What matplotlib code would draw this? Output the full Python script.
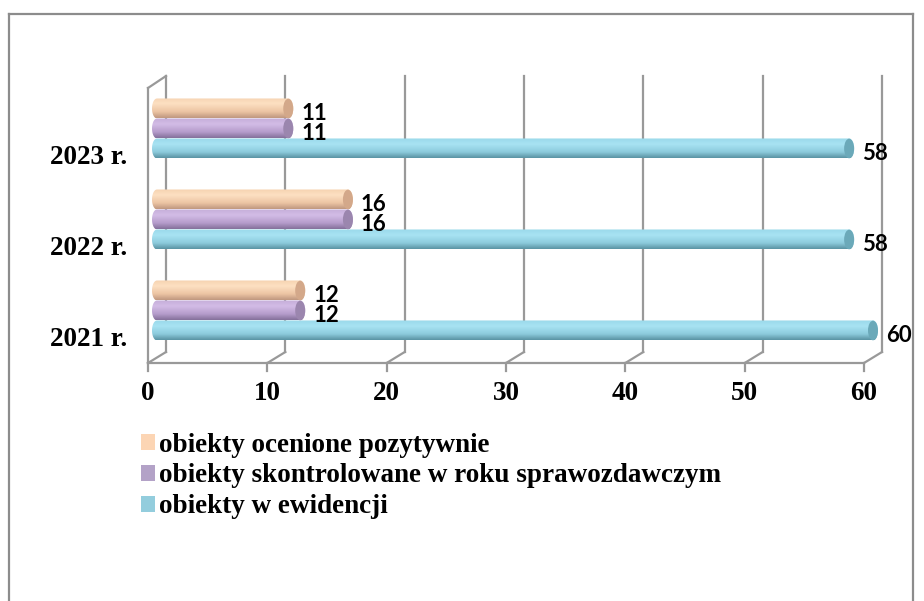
import numpy as np
import matplotlib.pyplot as plt
from matplotlib.path import Path
from matplotlib.patches import PathPatch, Ellipse, Patch
from matplotlib.colors import LinearSegmentedColormap
from matplotlib.lines import Line2D

years = ["2021 r.", "2022 r.", "2023 r."]
series_names = ["obiekty ocenione pozytywnie",
                "obiekty skontrolowane w roku sprawozdawczym",
                "obiekty w ewidencji"]
ocenione = [12, 16, 11]
skontrolowane = [12, 16, 11]
ewidencja = [60, 58, 58]

W, H = 924, 601
fig = plt.figure(figsize=(W / 100, H / 100), dpi=100)

# outer frame
grey = "#8c8c8c"
fig.add_artist(Line2D([9 / W, 9 / W], [0, 1 - 14 / H], color=grey, lw=1.6))
fig.add_artist(Line2D([9 / W, 913 / W], [1 - 14 / H, 1 - 14 / H], color=grey, lw=1.6))
fig.add_artist(Line2D([913 / W, 913 / W], [0, 1 - 14 / H], color=grey, lw=1.6))

# front plane of the 3d box: x 148..864 px, y 88..363 px
ax = fig.add_axes([148 / W, 1 - 363 / H, (864 - 148) / W, 275 / H])
ymin, ymax = -0.286, 2.736
ax.set_xlim(0, 60)
ax.set_ylim(ymin, ymax)
for s in ax.spines.values():
    s.set_visible(False)

px = 60 / 716.0            # data x per pixel
py = (ymax - ymin) / 275.0  # data y per pixel
dx, dy = 18, 11            # depth of the 3d box in pixels

wall = dict(color="#999999", lw=1.6, clip_on=False, zorder=1)
for v in range(0, 61, 10):
    ax.plot([v + dx * px, v + dx * px], [ymin + dy * py, ymax + 12 * py], **wall)
    ax.plot([v, v + dx * px], [ymin, ymin + dy * py], **wall)
    ax.plot([v, v], [ymin, ymin - 8 * py], **wall)
ax.plot([0, 60], [ymin, ymin], **wall)
ax.plot([0, 0], [ymin, ymax], **wall)
ax.plot([0, dx * px], [ymax, ymax + 12 * py], **wall)


def cylinder(x0, x1, yc, h, cols, cap):
    rx = 5 * px
    t1 = np.linspace(np.pi / 2, -np.pi / 2, 30)
    t2 = np.linspace(-np.pi / 2, -3 * np.pi / 2, 30)
    right = np.column_stack([x1 + rx * np.cos(t1), yc + h / 2 * np.sin(t1)])
    left = np.column_stack([x0 + rx * np.cos(t2), yc + h / 2 * np.sin(t2)])
    verts = np.vstack([right, left, right[:1]])
    codes = [Path.MOVETO] + [Path.LINETO] * (len(verts) - 2) + [Path.CLOSEPOLY]
    patch = PathPatch(Path(verts, codes), fc="none", ec="none")
    ax.add_patch(patch)
    cmap = LinearSegmentedColormap.from_list("c", cols)
    grad = np.linspace(0, 1, 64).reshape(-1, 1)
    im = ax.imshow(grad, extent=(x0 - rx, x1 + rx, yc - h / 2, yc + h / 2),
                   origin="lower", aspect="auto", cmap=cmap,
                   interpolation="bicubic", zorder=3)
    im.set_clip_path(patch)
    im.set_clip_box(fig.bbox)
    ax.add_patch(Ellipse((x1, yc), 2 * rx, h * 0.98, fc=cap, ec="none",
                         zorder=4, clip_on=False))


styles = [
    ([(0, "#bf977f"), (0.3, "#ecc4a3"), (0.7, "#fde0c2"), (1, "#f6d3b1")], "#d3a88a"),
    ([(0, "#84709a"), (0.3, "#b59ccb"), (0.7, "#d3bce6"), (1, "#c5aed9")], "#9b86ae"),
    ([(0, "#5a93a3"), (0.3, "#8ccbdc"), (0.7, "#a8e3f3"), (1, "#9ad9ea")], "#6ba9b9"),
]
values = [ocenione, skontrolowane, ewidencja]
h = 20 * py
x_start = 9 * px
for k, (vals, (cols, cap)) in enumerate(zip(values, styles)):
    for c, v in enumerate(vals):
        yc = c + 6.5 * py + (2 - k) * h
        cylinder(x_start, x_start + v, yc, h, cols, cap)
        ax.text(x_start + v + 13 * px, yc - 5 * py, str(v), ha="left", va="center",
                fontsize=16, fontweight="bold", family=["Lato", "DejaVu Sans"],
                zorder=5)

serif = {"family": "Liberation Serif", "weight": "bold", "size": 19.5}
ax.set_yticks(range(len(years)))
ax.set_yticklabels(years, fontdict=serif)
ax.set_xticks(range(0, 61, 10))
ax.set_xticklabels([str(v) for v in range(0, 61, 10)], fontdict=serif)
ax.tick_params(axis="both", length=0)
ax.tick_params(axis="y", pad=15)
ax.tick_params(axis="x", pad=13)

handles = [Patch(fc=c) for c in ["#fcd5b4", "#b3a2c7", "#93cddd"]]
fig.legend(handles, series_names, loc="upper left",
           bbox_to_anchor=(127 / W, 1 - 419 / H), frameon=False,
           prop=serif, handlelength=0.55, handleheight=0.55,
           handletextpad=0.12, labelspacing=0.22, borderpad=0)

fig.savefig("out.png", dpi=100)
